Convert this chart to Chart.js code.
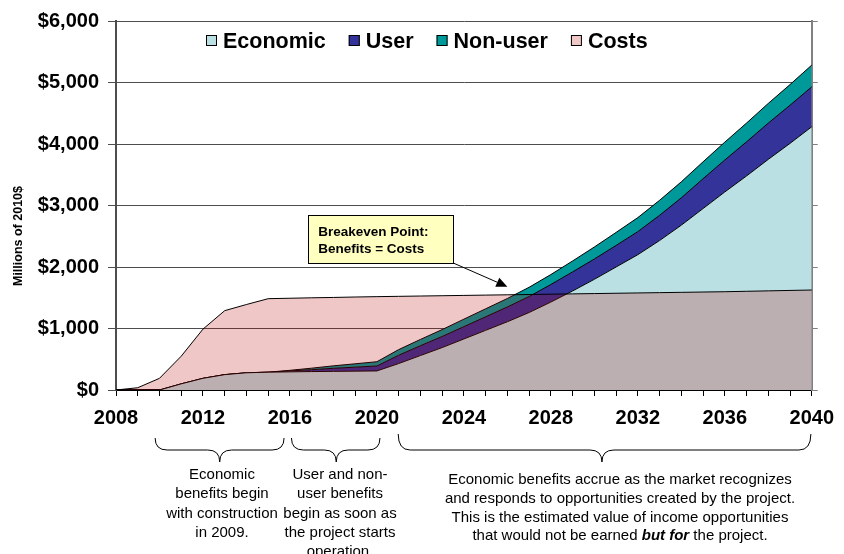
<!DOCTYPE html>
<html>
<head>
<meta charset="utf-8">
<script src="https://cdn.jsdelivr.net/npm/chart.js@4.4.0/dist/chart.umd.min.js"></script>
<style>
  html, body { margin: 0; padding: 0; background: #fff; }
  #wrap { width: 844px; height: 554px; }
</style>
</head>
<body>
<div id="wrap"><canvas id="chart" width="844" height="554"></canvas></div>
<script>
// values, millions of 2010$
const years = [2008, 2009, 2010, 2011, 2012, 2013, 2014, 2015, 2016, 2017, 2018,
  2019, 2020, 2021, 2022, 2023, 2024, 2025, 2026, 2027, 2028, 2029, 2030,
  2031, 2032, 2033, 2034, 2035, 2036, 2037, 2038, 2039, 2040];

const economic = [0, 0, 0, 100, 190, 250, 280, 290, 295, 300, 303,
  306, 310, 430, 560, 690, 830, 970, 1110, 1260, 1430, 1610, 1800,
  2000, 2200, 2430, 2680, 2950, 3220, 3480, 3750, 4010, 4280];

const user = [0, 0, 0, 0, 0, 0, 0, 0, 15, 30, 50,
  65, 80, 135, 160, 180, 200, 220, 240, 260, 285, 310, 330,
  350, 375, 410, 445, 485, 520, 555, 590, 620, 650];

const nonUser = [0, 0, 0, 0, 0, 0, 0, 0, 10, 25, 40,
  55, 70, 92, 102, 112, 122, 130, 138, 150, 162, 178, 195,
  212, 228, 244, 260, 275, 290, 305, 320, 336, 353];

const costs = [0, 37, 190, 550, 990, 1290, 1390, 1485, 1492, 1499, 1505,
  1512, 1518, 1523, 1528, 1533, 1538, 1543, 1548, 1553, 1558, 1563, 1568,
  1573, 1578, 1583, 1588, 1593, 1598, 1605, 1612, 1619, 1626];

const yTicks = [0, 1000, 2000, 3000, 4000, 5000, 6000];

const FONT = 'Arial, "Liberation Sans", Helvetica, sans-serif';
Chart.defaults.font.family = FONT;
Chart.defaults.color = '#000';

// position on the x axis for a (possibly fractional) year
const xAt = (chart, year) => chart.scales.x.getPixelForValue(year - years[0]);
const yAt = (chart, v) => chart.scales.y.getPixelForValue(v);

const legendPlugin = {
  id: 'insideLegend',
  afterDraw(chart) {
    const ctx = chart.ctx;
    ctx.save();
    ctx.font = 'bold 21.5px ' + FONT;
    ctx.textBaseline = 'alphabetic';
    let x = 206;
    chart.data.datasets.forEach(ds => {
      ctx.fillStyle = ds.legendColor;
      ctx.fillRect(x, 35, 11, 11);
      ctx.strokeStyle = '#000';
      ctx.lineWidth = 1;
      ctx.strokeRect(x + 0.5, 35.5, 10, 10);
      ctx.fillStyle = '#000';
      ctx.fillText(ds.label, x + 17, 48);
      x += 17 + ctx.measureText(ds.label).width + 23;
    });
    ctx.restore();
  }
};

function drawBrace(ctx, x1, x2, xc, top, mid, tip) {
  const r = 12;
  ctx.beginPath();
  ctx.moveTo(x1, top);
  ctx.quadraticCurveTo(x1, mid, x1 + r, mid);
  ctx.lineTo(xc - r, mid);
  ctx.quadraticCurveTo(xc, mid, xc, tip);
  ctx.quadraticCurveTo(xc, mid, xc + r, mid);
  ctx.lineTo(x2 - r, mid);
  ctx.quadraticCurveTo(x2, mid, x2, top);
  ctx.stroke();
}

const notesPlugin = {
  id: 'notes',
  afterDraw(chart) {
    const ctx = chart.ctx;
    ctx.save();

    // y axis title
    ctx.save();
    ctx.translate(19, 236);
    ctx.rotate(-Math.PI / 2);
    ctx.font = 'bold 12.5px ' + FONT;
    ctx.textAlign = 'center';
    ctx.textBaseline = 'middle';
    ctx.fillStyle = '#000';
    ctx.fillText('Millions of 2010$', 0, 0);
    ctx.restore();

    // braces under the x axis
    ctx.strokeStyle = '#000';
    ctx.lineWidth = 1;
    drawBrace(ctx, xAt(chart, 2009.8), xAt(chart, 2015.73), xAt(chart, 2012.77), 438, 450, 462);
    drawBrace(ctx, xAt(chart, 2016.07), xAt(chart, 2020.14), xAt(chart, 2018.13), 438, 450, 462);
    drawBrace(ctx, xAt(chart, 2020.98), xAt(chart, 2039.96), xAt(chart, 2030.35), 434, 450, 462);

    ctx.fillStyle = '#000';
    ctx.font = '15px ' + FONT;
    ctx.textAlign = 'center';
    ctx.textBaseline = 'middle';
    const note1 = ['Economic', 'benefits begin', 'with construction', 'in 2009.'];
    note1.forEach((t, i) => ctx.fillText(t, 222, 475 + i * 19.2));
    const note2 = ['User and non-', 'user benefits', 'begin as soon as', 'the project starts', 'operation.'];
    note2.forEach((t, i) => ctx.fillText(t, 340, 475 + i * 19.2));
    const note3 = ['Economic benefits accrue as the market recognizes',
      'and responds to opportunities created by the project.',
      'This is the estimated value of income opportunities'];
    note3.forEach((t, i) => ctx.fillText(t, 620, 480 + i * 18.7));

    // last line with bold italic "but for"
    const parts = [
      { t: 'that would not be earned ', f: '15px ' + FONT },
      { t: 'but for', f: 'italic bold 15px ' + FONT },
      { t: ' the project.', f: '15px ' + FONT }
    ];
    let total = 0;
    parts.forEach(p => { ctx.font = p.f; p.w = ctx.measureText(p.t).width; total += p.w; });
    ctx.textAlign = 'left';
    let px = 620 - total / 2;
    parts.forEach(p => { ctx.font = p.f; ctx.fillText(p.t, px, 536); px += p.w; });

    // breakeven call-out
    const tipX = xAt(chart, 2026.0), tipY = yAt(chart, 1680);
    const bx = xAt(chart, 2016.84), by = yAt(chart, 2846);
    const bw = 145, bh = 48;
    ctx.fillStyle = '#FFFFC0';
    ctx.fillRect(bx, by, bw, bh);
    ctx.strokeStyle = '#000';
    ctx.strokeRect(Math.round(bx) + 0.5, Math.round(by) + 0.5, bw, bh);
    ctx.fillStyle = '#000';
    ctx.font = 'bold 13.5px ' + FONT;
    ctx.textBaseline = 'alphabetic';
    ctx.fillText('Breakeven Point:', bx + 10, by + 21);
    ctx.fillText('Benefits = Costs', bx + 10, by + 38);

    const sx = bx + bw, sy = by + bh;
    const ang = Math.atan2(tipY - sy, tipX - sx);
    const hl = 11, hw = 5;
    const baseX = tipX - hl * Math.cos(ang), baseY = tipY - hl * Math.sin(ang);
    ctx.beginPath();
    ctx.moveTo(sx, sy);
    ctx.lineTo(baseX, baseY);
    ctx.stroke();
    ctx.beginPath();
    ctx.moveTo(tipX, tipY);
    ctx.lineTo(baseX + hw * Math.sin(ang), baseY - hw * Math.cos(ang));
    ctx.lineTo(baseX - hw * Math.sin(ang), baseY + hw * Math.cos(ang));
    ctx.closePath();
    ctx.fill();

    ctx.restore();
  }
};

new Chart(document.getElementById('chart'), {
  type: 'line',
  data: {
    labels: years,
    datasets: [
      {
        label: 'Economic', data: economic, stack: 'benefits', fill: 'origin',
        backgroundColor: '#BBE0E3', legendColor: '#BBE0E3'
      },
      {
        label: 'User', data: user, stack: 'benefits', fill: '-1',
        backgroundColor: '#333399', legendColor: '#333399'
      },
      {
        label: 'Non-user', data: nonUser, stack: 'benefits', fill: '-1',
        backgroundColor: '#009999', legendColor: '#009999'
      },
      {
        label: 'Costs', data: costs, stack: 'costs', fill: 'origin', order: -1,
        backgroundColor: 'rgba(187, 0, 0, 0.22)', legendColor: '#F0C7C7'
      }
    ]
  },
  options: {
    responsive: false,
    animation: false,
    layout: { padding: { top: 21, left: 0, right: 0, bottom: 0 } },
    elements: {
      point: { radius: 0, hoverRadius: 0 },
      line: { tension: 0, borderWidth: 1, borderColor: '#000' }
    },
    plugins: {
      legend: { display: false },
      tooltip: { enabled: false }
    },
    scales: {
      x: {
        type: 'category',
        offset: false,
        grid: { drawOnChartArea: false, drawTicks: true, tickLength: 6, tickColor: '#000' },
        border: { display: true, color: '#000', width: 2 },
        ticks: {
          autoSkip: false, maxRotation: 0, padding: 10,
          font: { size: 20, weight: 'bold' },
          callback: (v, i) => (years[i] % 4 === 0 ? String(years[i]) : '')
        },
        afterFit: s => { s.height = 164; }
      },
      y: {
        stacked: true,
        min: yTicks[0], max: yTicks[yTicks.length - 1],
        ticks: {
          stepSize: 1000, padding: 9,
          font: { size: 20, weight: 'bold' },
          callback: v => '$' + v.toLocaleString('en-US')
        },
        grid: { color: '#4d4d4d', lineWidth: 1, tickLength: 8, tickColor: '#4d4d4d' },
        border: { color: '#4d4d4d', width: 2 },
        afterFit: s => { s.width = 116; }
      },
      y2: {
        position: 'right',
        min: yTicks[0], max: yTicks[yTicks.length - 1],
        ticks: { stepSize: 1000, display: false },
        grid: { drawOnChartArea: false, tickLength: 6, tickColor: '#808080' },
        border: { color: '#808080', width: 2 },
        afterFit: s => { s.width = 25; }
      }
    }
  },
  plugins: [legendPlugin, notesPlugin]
});
</script>
</body>
</html>
